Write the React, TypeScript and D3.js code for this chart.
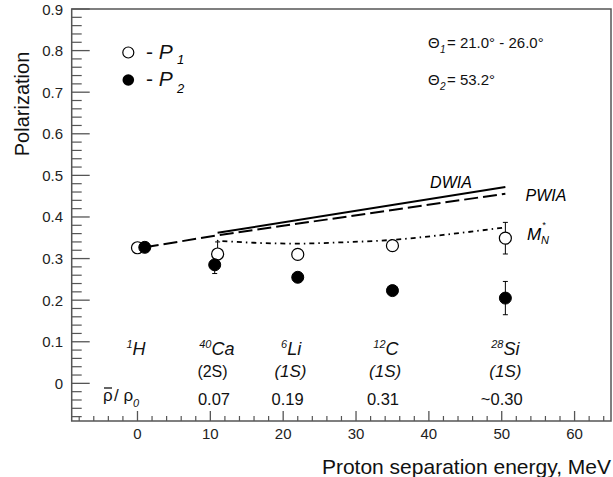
import React from "react";
import * as d3 from "d3";

const W = 613;
const H = 477;

// P1 (open) and P2 (filled) data: [energy, polarization, error]
const p1X = [0, 11, 22, 35, 50.5];
const p1Y = [0.326, 0.311, 0.31, 0.331, 0.349];
const p1Err = [0, 0.029, 0, 0, 0.038];
const p2X = [1, 10.6, 22, 35, 50.5];
const p2Y = [0.327, 0.285, 0.255, 0.223, 0.205];
const p2Err = [0, 0.021, 0.011, 0, 0.04];

const dwiaX = [11, 50.5];
const dwiaY = [0.362, 0.472];
const pwiaX = [1, 11, 50.5];
const pwiaY = [0.327, 0.356, 0.456];
const mnX = [10.9, 16, 22, 28, 35, 42, 50.5];
const mnY = [0.343, 0.338, 0.336, 0.339, 0.345, 0.357, 0.375];

const xTicks = [0, 10, 20, 30, 40, 50, 60];
const yTicks = [0, 0.1, 0.2, 0.3, 0.4, 0.5, 0.6, 0.7, 0.8, 0.9];

const nucleiX = [-0.2, 10.9, 21.1, 34.1, 50.5];
const nucleiSup = ["1", "40", "6", "12", "28"];
const nucleiSym = ["H", "Ca", "Li", "C", "Si"];
const shellX = [10.3, 21, 34, 50.5];
const shellLbl = ["(2S)", "(1S)", "(1S)", "(1S)"];
const shellItalic = [false, true, true, true];
const rhoX = [10.5, 20.6, 33.7, 50];
const rhoLbl = ["0.07", "0.19", "0.31", "~0.30"];

const FONT = "'Liberation Sans', Arial, Helvetica, sans-serif";

export default function App() {
  const left = 71.7, right = 611, top = 9, bottom = 421;
  const x = d3.scaleLinear().domain([-9.03, 65]).range([left, right]);
  const y = d3.scaleLinear().domain([-0.0905, 0.9]).range([bottom, top]);

  const xMinor = d3.range(-8, 65, 2).filter((v) => v % 10 !== 0);
  const yMinor = d3.range(-8, 90, 2).map((v) => v / 100).filter((v) => Math.round(v * 100) % 10 !== 0);

  const lin = d3.line<[number, number]>().x((d) => x(d[0])).y((d) => y(d[1]));
  const curve = d3.line<[number, number]>().x((d) => x(d[0])).y((d) => y(d[1])).curve(d3.curveMonotoneX);

  const dwia = lin(dwiaX.map((v, i) => [v, dwiaY[i]]));
  const pwia = lin(pwiaX.map((v, i) => [v, pwiaY[i]]));
  const mn = curve(mnX.map((v, i) => [v, mnY[i]]));

  const axisColor = "#555";
  const r = 6;

  const errBar = (xv: number, yv: number, e: number, key: string) =>
    e > 0 ? (
      <g key={key} stroke="#000" strokeWidth={1}>
        <line x1={x(xv)} x2={x(xv)} y1={y(yv - e)} y2={y(yv + e)} />
        <line x1={x(xv) - 2.5} x2={x(xv) + 2.5} y1={y(yv - e)} y2={y(yv - e)} />
        <line x1={x(xv) - 2.5} x2={x(xv) + 2.5} y1={y(yv + e)} y2={y(yv + e)} />
      </g>
    ) : null;

  return (
    <svg width={W} height={H} style={{ position: "absolute", left: 0, top: 0, background: "#fff" }} fontFamily={FONT}>
      <rect x={0} y={0} width={W} height={H} fill="#fff" />
      {/* frame */}
      <rect x={left} y={top} width={right - left} height={bottom - top} fill="none" stroke={axisColor} strokeWidth={1.5} />
      {/* y ticks */}
      {yTicks.map((t) => (
        <g key={"yt" + t}>
          <line x1={left} x2={left + 18} y1={y(t)} y2={y(t)} stroke={axisColor} strokeWidth={1.3} />
          <text x={63} y={y(t) + 5.5} fontSize={15} textAnchor="end" fill="#222">
            {t === 0 ? "0" : t.toFixed(1)}
          </text>
        </g>
      ))}
      {yMinor.map((t) => (
        <line key={"ym" + t} x1={left} x2={left + 10} y1={y(t)} y2={y(t)} stroke={axisColor} strokeWidth={1.2} />
      ))}
      {/* x ticks */}
      {xTicks.map((t) => (
        <g key={"xt" + t}>
          <line x1={x(t)} x2={x(t)} y1={bottom} y2={bottom - 10} stroke={axisColor} strokeWidth={1.3} />
          <text x={x(t)} y={439} fontSize={15} textAnchor="middle" fill="#222">
            {t}
          </text>
        </g>
      ))}
      {xMinor.map((t) => (
        <line key={"xm" + t} x1={x(t)} x2={x(t)} y1={bottom} y2={bottom - 5} stroke={axisColor} strokeWidth={1.2} />
      ))}
      {/* axis titles */}
      <text transform="translate(29,104) rotate(-90)" fontSize={20} textAnchor="middle" fill="#111">
        Polarization
      </text>
      <text x={611} y={474} fontSize={21} textAnchor="end" fill="#111">
        Proton separation energy, MeV
      </text>

      {/* theory curves */}
      <path d={dwia || ""} fill="none" stroke="#000" strokeWidth={2} />
      <path d={pwia || ""} fill="none" stroke="#000" strokeWidth={2} strokeDasharray="14,5" />
      <path d={mn || ""} fill="none" stroke="#000" strokeWidth={1.8} strokeDasharray="1.5,4,5,4" />
      <text x={451} y={188} fontSize={16} fontStyle="italic" textAnchor="middle">DWIA</text>
      <text x={546} y={201} fontSize={16} fontStyle="italic" textAnchor="middle">PWIA</text>
      <text x={527} y={240} fontSize={17} fontStyle="italic">M</text>
      <text x={542} y={228} fontSize={9} fontStyle="italic">*</text>
      <text x={541} y={244} fontSize={11} fontStyle="italic">N</text>

      {/* error bars */}
      {p1X.map((v, i) => errBar(v, p1Y[i], p1Err[i], "e1" + i))}
      {p2X.map((v, i) => errBar(v, p2Y[i], p2Err[i], "e2" + i))}
      {/* P1 open markers */}
      {p1X.map((v, i) => (
        <circle key={"p1" + i} cx={x(v)} cy={y(p1Y[i])} r={r} fill="#fff" stroke="#000" strokeWidth={1.2} />
      ))}
      {/* P2 filled */}
      {p2X.map((v, i) => (
        <circle key={"p2" + i} cx={x(v)} cy={y(p2Y[i])} r={r} fill="#000" stroke="#000" strokeWidth={1} />
      ))}

      {/* legend */}
      <circle cx={128.3} cy={52.5} r={5.5} fill="#fff" stroke="#000" strokeWidth={1.2} />
      <text x={146} y={58.5} fontSize={21} fill="#111">
        -{" "}
        <tspan fontStyle="italic">P</tspan>
      </text>
      <text x={177} y={64} fontSize={13} fontStyle="italic">1</text>
      <circle cx={128.3} cy={80} r={5.8} fill="#000" />
      <text x={146} y={86} fontSize={21} fill="#111">
        -{" "}
        <tspan fontStyle="italic">P</tspan>
      </text>
      <text x={177} y={93} fontSize={13} fontStyle="italic">2</text>

      {/* theta annotations */}
      <text x={428} y={48} fontSize={15} fill="#111">Θ</text>
      <text x={440} y={53} fontSize={10} fontStyle="italic" fill="#111">1</text>
      <text x={447} y={48} fontSize={15} fill="#111">= 21.0° - 26.0°</text>
      <text x={428} y={85} fontSize={15} fill="#111">Θ</text>
      <text x={440} y={90} fontSize={10} fontStyle="italic" fill="#111">2</text>
      <text x={447} y={85} fontSize={15} fill="#111">= 53.2°</text>

      {/* nucleus labels */}
      {nucleiX.map((v, i) => (
        <text key={"n" + i} x={x(v)} y={355} fontSize={18} fontStyle="italic" textAnchor="middle" fill="#111">
          <tspan fontSize={11} dy={-7}>{nucleiSup[i]}</tspan>
          <tspan dy={7}>{nucleiSym[i]}</tspan>
        </text>
      ))}
      {shellX.map((v, i) => (
        <text key={"s" + i} x={x(v)} y={377} fontSize={shellItalic[i] ? 17 : 16} fontStyle={shellItalic[i] ? "italic" : "normal"} textAnchor="middle" fill="#111">
          {shellLbl[i]}
        </text>
      ))}
      {rhoX.map((v, i) => (
        <text key={"r" + i} x={x(v)} y={405} fontSize={16.5} textAnchor="middle" fill="#111">
          {rhoLbl[i]}
        </text>
      ))}
      <text x={103} y={401} fontSize={17} fill="#111">ρ</text>
      <line x1={104} x2={112} y1={388} y2={388} stroke="#111" strokeWidth={1.3} />
      <text x={114} y={401} fontSize={17} fill="#111">/ ρ</text>
      <text x={133} y={407} fontSize={11} fontStyle="italic" fill="#111">0</text>
    </svg>
  );
}
